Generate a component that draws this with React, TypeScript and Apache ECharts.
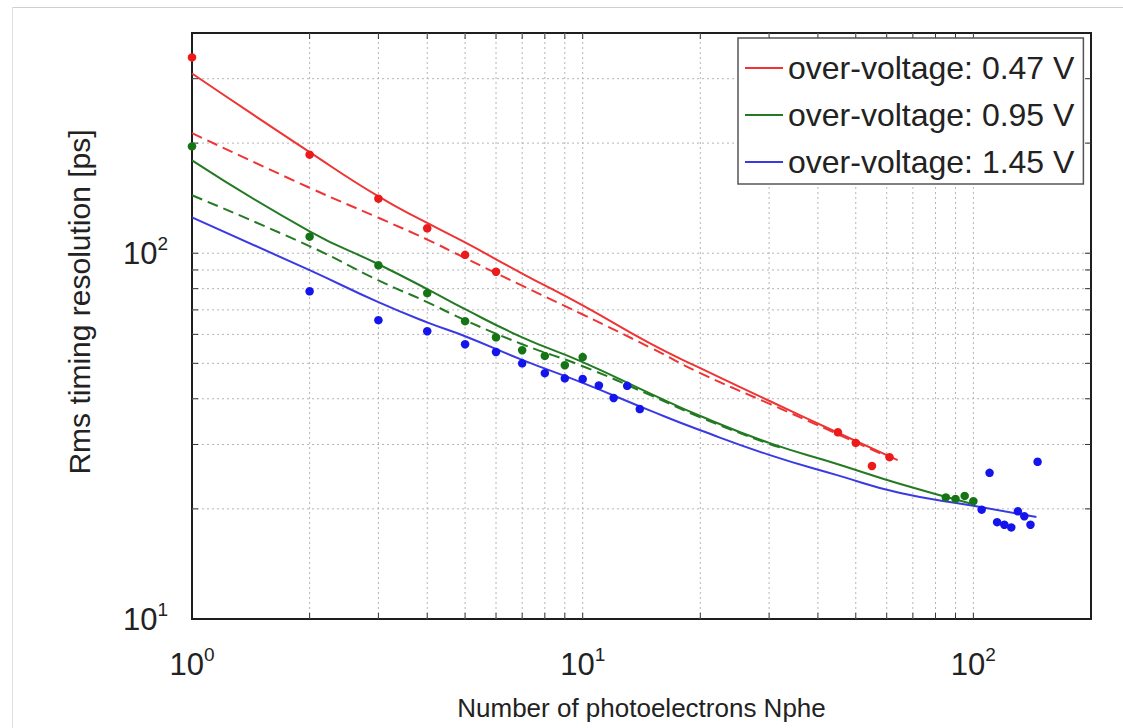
import React, { useEffect, useRef } from 'react';
import * as echarts from 'echarts';

const FONT = '"Liberation Sans", Arial, Helvetica, sans-serif';
const X_MIN = 1;
const X_MAX = 200;
const Y_MIN = 10;
const Y_MAX = 400;

const legendNames = ['over-voltage: 0.47 V', 'over-voltage: 0.95 V', 'over-voltage: 1.45 V'];
const xAxisTitle = 'Number of photoelectrons Nphe';
const yAxisTitle = 'Rms timing resolution [ps]';

// grid positions (log decades and their sub-divisions)
const xGridVals = [2, 3, 4, 5, 6, 7, 8, 9, 10, 20, 30, 40, 50, 60, 70, 80, 90, 100];
const yGridVals = [20, 30, 40, 50, 60, 70, 80, 90, 100, 200, 300];

// measured points
const redPointsX = [1, 2, 3, 4, 5, 6, 45, 50, 55, 61];
const redPointsY = [343, 186, 141, 117, 99, 89, 32.4, 30.3, 26.2, 27.7];
const greenPointsX = [1, 2, 3, 4, 5, 6, 7, 8, 9, 10, 85, 90, 95, 100];
const greenPointsY = [196, 111, 92.7, 77.8, 65.2, 58.9, 54.3, 52.4, 49.4, 52.0, 21.5, 21.3, 21.7, 21.0];
const bluePointsX = [2, 3, 4, 5, 6, 7, 8, 9, 10, 11, 12, 13, 14, 105, 110, 115, 120, 125, 130, 135, 140, 146];
const bluePointsY = [78.7, 65.6, 61.2, 56.4, 53.7, 50.0, 47.0, 45.5, 45.3, 43.5, 40.2, 43.4, 37.5, 19.9, 25.1, 18.4, 18.1, 17.8, 19.7, 19.1, 18.1, 26.9];

// fit curves (solid)
const redFitX = [1, 2, 3, 4, 5, 7, 10, 15, 20, 30, 45, 64];
const redFitY = [310, 189, 143, 121, 107, 88, 72, 56.4, 48.5, 39.5, 32.3, 27.2];
const greenFitX = [1, 2, 3, 4, 5, 7, 10, 15, 20, 30, 45, 65, 100];
const greenFitY = [179.5, 114.8, 93.3, 79.8, 70.3, 58.9, 50.4, 41.2, 35.9, 30.3, 26.5, 23.4, 20.6];
const blueFitX = [1, 2, 3, 4, 5, 7, 10, 15, 20, 30, 45, 65, 100, 145];
const blueFitY = [125.3, 89.9, 73.5, 64.7, 59.3, 51.1, 44.2, 37.0, 32.8, 28.1, 24.7, 22.1, 20.4, 19.0];

// fit curves (dashed)
const redDashX = [1, 2, 3, 4, 5, 7, 10, 15, 20, 30, 45, 62];
const redDashY = [213, 151, 125, 109, 97, 81.5, 68, 55, 47, 38.8, 32, 27.4];
const greenDashX = [1, 2, 3, 4, 5, 7, 10, 15, 20, 30, 33];
const greenDashY = [144, 104.5, 84.3, 73.5, 65.6, 56.4, 49.1, 40.8, 35.6, 30.1, 29.2];

const RED_LINE = '#ee3434';
const RED_PT = '#ec1a1a';
const GREEN_LINE = '#237a23';
const GREEN_PT = '#157515';
const BLUE_LINE = '#3a3ae4';
const BLUE_PT = '#1414ec';

const zip = (xs: number[], ys: number[]) => xs.map((x, i) => [x, ys[i]]);

const labelFormatter = (v: number) => {
  const l = Math.log10(v);
  if (Math.abs(l - Math.round(l)) > 1e-6) return '';
  return `{b|10}{s|${Math.round(l)}}`;
};

const labelRich = {
  b: { fontSize: 31, lineHeight: 38, color: '#222', fontFamily: FONT },
  s: { fontSize: 19, lineHeight: 12, verticalAlign: 'top', color: '#222', fontFamily: FONT },
};

export default function App() {
  const ref = useRef<HTMLDivElement>(null);

  useEffect(() => {
    if (!ref.current) return;
    const chart = echarts.init(ref.current, undefined, { renderer: 'svg' });

    const gridStyle = { stroke: '#b4b4b4', lineWidth: 1, lineDash: [2, 3] };
    const tickStyle = { stroke: '#333', lineWidth: 1 };
    const TICK = 6;

    const lineSeries = (name: string, xs: number[], ys: number[], color: string, dashed: boolean) => ({
      name,
      type: 'line',
      data: zip(xs, ys),
      smooth: 0.5,
      symbol: 'none',
      z: 3,
      lineStyle: { color, width: 2, type: dashed ? [11, 6] : 'solid' },
      itemStyle: { color },
    });

    const scatterSeries = (name: string, xs: number[], ys: number[], color: string) => ({
      name,
      type: 'scatter',
      data: zip(xs, ys),
      symbolSize: 8.5,
      z: 4,
      itemStyle: { color, opacity: 1 },
    });

    chart.setOption({
      animation: false,
      backgroundColor: '#ffffff',
      textStyle: { fontFamily: FONT },
      graphic: [
        { type: 'line', shape: { x1: 12, y1: 7.5, x2: 1123, y2: 7.5 }, style: { stroke: '#cfcfcf', lineWidth: 1 }, z: 0 },
        { type: 'line', shape: { x1: 12.5, y1: 7, x2: 12.5, y2: 728 }, style: { stroke: '#e0e0e0', lineWidth: 1 }, z: 0 },
      ],
      grid: {
        left: 192,
        right: 32,
        top: 33,
        bottom: 109,
        show: true,
        backgroundColor: '#ffffff',
        borderColor: '#1e1e1e',
        borderWidth: 2,
        outerBoundsMode: 'none',
      },
      legend: {
        data: legendNames,
        orient: 'vertical',
        left: 738,
        top: 38,
        icon: 'rect',
        itemWidth: 38,
        itemHeight: 2,
        itemGap: 15,
        padding: [14, 9, 6, 7],
        backgroundColor: '#ffffff',
        borderColor: '#555555',
        borderWidth: 1.5,
        selectedMode: false,
        textStyle: { fontSize: 32, lineHeight: 32, color: '#222', fontFamily: FONT },
        z: 10,
      },
      xAxis: {
        type: 'log',
        logBase: 10,
        min: X_MIN,
        max: X_MAX,
        name: xAxisTitle,
        nameLocation: 'middle',
        nameGap: 76,
        nameTextStyle: { fontSize: 26, color: '#222', fontFamily: FONT },
        axisLine: { show: false },
        axisTick: { show: false },
        splitLine: { show: false },
        axisLabel: { margin: 26, formatter: labelFormatter, rich: labelRich, showMinLabel: true, showMaxLabel: true },
      },
      yAxis: {
        type: 'log',
        logBase: 10,
        min: Y_MIN,
        max: Y_MAX,
        name: yAxisTitle,
        nameLocation: 'middle',
        nameGap: 98,
        nameTextStyle: { fontSize: 30, color: '#222', fontFamily: FONT, padding: [0, 0, 0, 48] },
        axisLine: { show: false },
        axisTick: { show: false },
        splitLine: { show: false },
        axisLabel: { margin: 24, formatter: labelFormatter, rich: labelRich, showMinLabel: true, showMaxLabel: true },
      },
      series: [
        {
          name: 'xgrid',
          type: 'custom',
          z: 1,
          silent: true,
          data: xGridVals.map((v) => [v, Y_MIN]),
          encode: { x: 0, y: 1 },
          renderItem: (_p: any, api: any) => {
            const v = api.value(0);
            const b = api.coord([v, Y_MIN]);
            const t = api.coord([v, Y_MAX]);
            return {
              type: 'group',
              children: [
                { type: 'line', shape: { x1: b[0], y1: b[1], x2: t[0], y2: t[1] }, style: gridStyle },
                { type: 'line', shape: { x1: b[0], y1: b[1], x2: b[0], y2: b[1] - TICK }, style: tickStyle },
                { type: 'line', shape: { x1: t[0], y1: t[1], x2: t[0], y2: t[1] + TICK }, style: tickStyle },
              ],
            };
          },
        },
        {
          name: 'ygrid',
          type: 'custom',
          z: 1,
          silent: true,
          data: yGridVals.map((v) => [X_MIN, v]),
          encode: { x: 0, y: 1 },
          renderItem: (_p: any, api: any) => {
            const v = api.value(1);
            const l = api.coord([X_MIN, v]);
            const r = api.coord([X_MAX, v]);
            return {
              type: 'group',
              children: [
                { type: 'line', shape: { x1: l[0], y1: l[1], x2: r[0], y2: r[1] }, style: gridStyle },
                { type: 'line', shape: { x1: l[0], y1: l[1], x2: l[0] + TICK, y2: l[1] }, style: tickStyle },
                { type: 'line', shape: { x1: r[0], y1: r[1], x2: r[0] - TICK, y2: r[1] }, style: tickStyle },
              ],
            };
          },
        },
        lineSeries(legendNames[0], redFitX, redFitY, RED_LINE, false),
        lineSeries(legendNames[1], greenFitX, greenFitY, GREEN_LINE, false),
        lineSeries(legendNames[2], blueFitX, blueFitY, BLUE_LINE, false),
        lineSeries('fit 0.47 V (dashed)', redDashX, redDashY, RED_LINE, true),
        lineSeries('fit 0.95 V (dashed)', greenDashX, greenDashY, GREEN_LINE, true),
        scatterSeries('data 0.47 V', redPointsX, redPointsY, RED_PT),
        scatterSeries('data 0.95 V', greenPointsX, greenPointsY, GREEN_PT),
        scatterSeries('data 1.45 V', bluePointsX, bluePointsY, BLUE_PT),
      ],
    });

    return () => chart.dispose();
  }, []);

  return (
    <div
      ref={ref}
      style={{ position: 'fixed', left: 0, top: 0, width: 1123, height: 728, background: '#fff' }}
    />
  );
}
